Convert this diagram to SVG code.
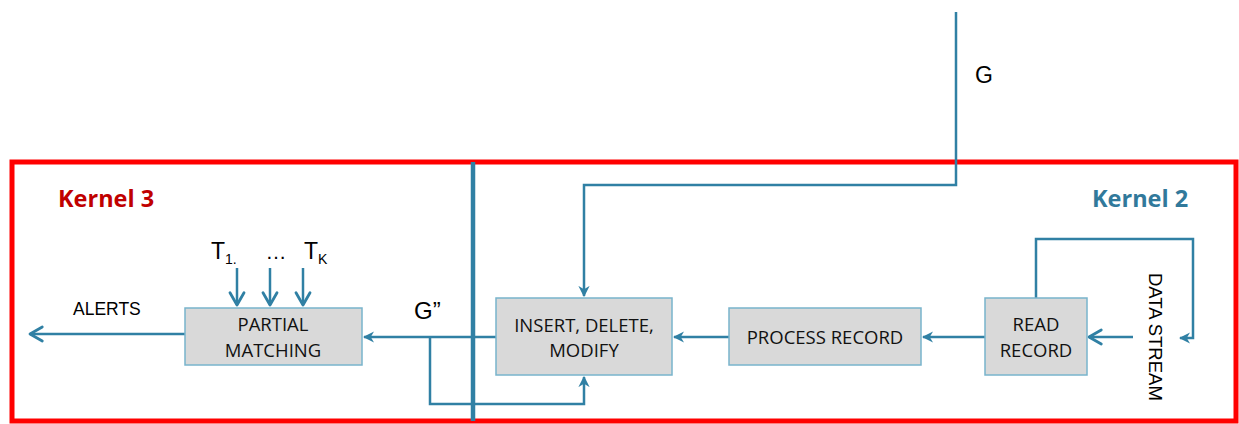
<svg xmlns="http://www.w3.org/2000/svg" width="1239" height="424" viewBox="0 0 1239 424">
<defs>
<style>
.frame{fill:none;stroke:#ff0000;stroke-width:5}
.ln{fill:none;stroke:#3080a4;stroke-width:2.5}
.div{fill:none;stroke:#3080a4;stroke-width:4.5}
.box{fill:#d9d9d9;stroke:#78b4cc;stroke-width:1.5}
.t{font-family:"Open Sans","Liberation Sans",sans-serif;font-size:18.5px;fill:#111;text-anchor:middle}
.lbl{font-family:"Liberation Sans",Arial,sans-serif;fill:#000}
.k{font-family:"Open Sans","Liberation Sans",sans-serif;font-weight:bold;font-size:23.5px}
</style>
<marker id="tri" viewBox="0 0 10 10" refX="9" refY="5" markerWidth="4.5" markerHeight="4.5" orient="auto" markerUnits="strokeWidth">
<path d="M0,0 L10,5 L0,10 L3,5 Z" fill="#3080a4"/>
</marker>
<marker id="chev" viewBox="0 0 10 10" refX="9" refY="5" markerWidth="7" markerHeight="7" orient="auto" markerUnits="strokeWidth">
<path d="M2,1 L9,5 L2,9" fill="none" stroke="#3080a4" stroke-width="1.6" stroke-linecap="round" stroke-linejoin="round"/>
</marker>
</defs>
<rect class="frame" x="12" y="162" width="1224" height="259"/>
<text class="k" x="58" y="207" fill="#c00000">Kernel 3</text>
<text class="k" x="1092" y="207" fill="#31799b">Kernel 2</text>
<g id="connectors">
<line class="div" x1="473" y1="162" x2="473" y2="421"/>
<polyline class="ln" points="956,12 956,185 584,185 584,296" marker-end="url(#tri)"/>
<line class="ln" x1="185" y1="334" x2="30" y2="334" marker-end="url(#chev)"/>
<line class="ln" x1="496" y1="337" x2="364" y2="337" marker-end="url(#tri)"/>
<polyline class="ln" points="430,337 430,404 584,404 584,377" marker-end="url(#tri)"/>
<line class="ln" x1="729" y1="337" x2="674" y2="337" marker-end="url(#tri)"/>
<line class="ln" x1="985" y1="337" x2="923" y2="337" marker-end="url(#tri)"/>
<line class="ln" x1="1133" y1="337" x2="1089" y2="337" marker-end="url(#chev)"/>
<polyline class="ln" points="1036,298 1036,239 1193,239 1193,338 1180,338" marker-end="url(#tri)"/>
<line class="ln" x1="237" y1="268" x2="237" y2="305" marker-end="url(#chev)"/>
<line class="ln" x1="270" y1="268" x2="270" y2="305" marker-end="url(#chev)"/>
<line class="ln" x1="303" y1="268" x2="303" y2="305" marker-end="url(#chev)"/>
</g>
<text class="lbl" x="975" y="83" font-size="23">G</text>
<text class="lbl" x="414" y="319" font-size="24">G”</text>
<text class="lbl" x="73" y="315" font-size="17.5">ALERTS</text>
<text class="lbl" x="211" y="259" font-size="23">T<tspan font-size="14" dy="5">1.</tspan></text>
<text class="lbl" x="276" y="259" font-size="21" text-anchor="middle">…</text>
<text class="lbl" x="304" y="259" font-size="23">T<tspan font-size="14" dy="5">K</tspan></text>
<text class="lbl" x="1149" y="273" font-size="18.5" transform="rotate(90 1149 273)">DATA STREAM</text>
<g id="partial-matching">
<rect class="box" x="185" y="308" width="177" height="57"/>
<text class="t" x="273" y="331">PARTIAL</text>
<text class="t" x="273" y="357">MATCHING</text>
</g>
<g id="insert-delete-modify">
<rect class="box" x="496" y="298" width="176" height="77"/>
<text class="t" x="584" y="332">INSERT, DELETE,</text>
<text class="t" x="584" y="357">MODIFY</text>
</g>
<g id="process-record">
<rect class="box" x="729" y="308" width="192" height="57"/>
<text class="t" x="825" y="344">PROCESS RECORD</text>
</g>
<g id="read-record">
<rect class="box" x="985" y="298" width="102" height="77"/>
<text class="t" x="1036" y="331">READ</text>
<text class="t" x="1036" y="357">RECORD</text>
</g>
</svg>
